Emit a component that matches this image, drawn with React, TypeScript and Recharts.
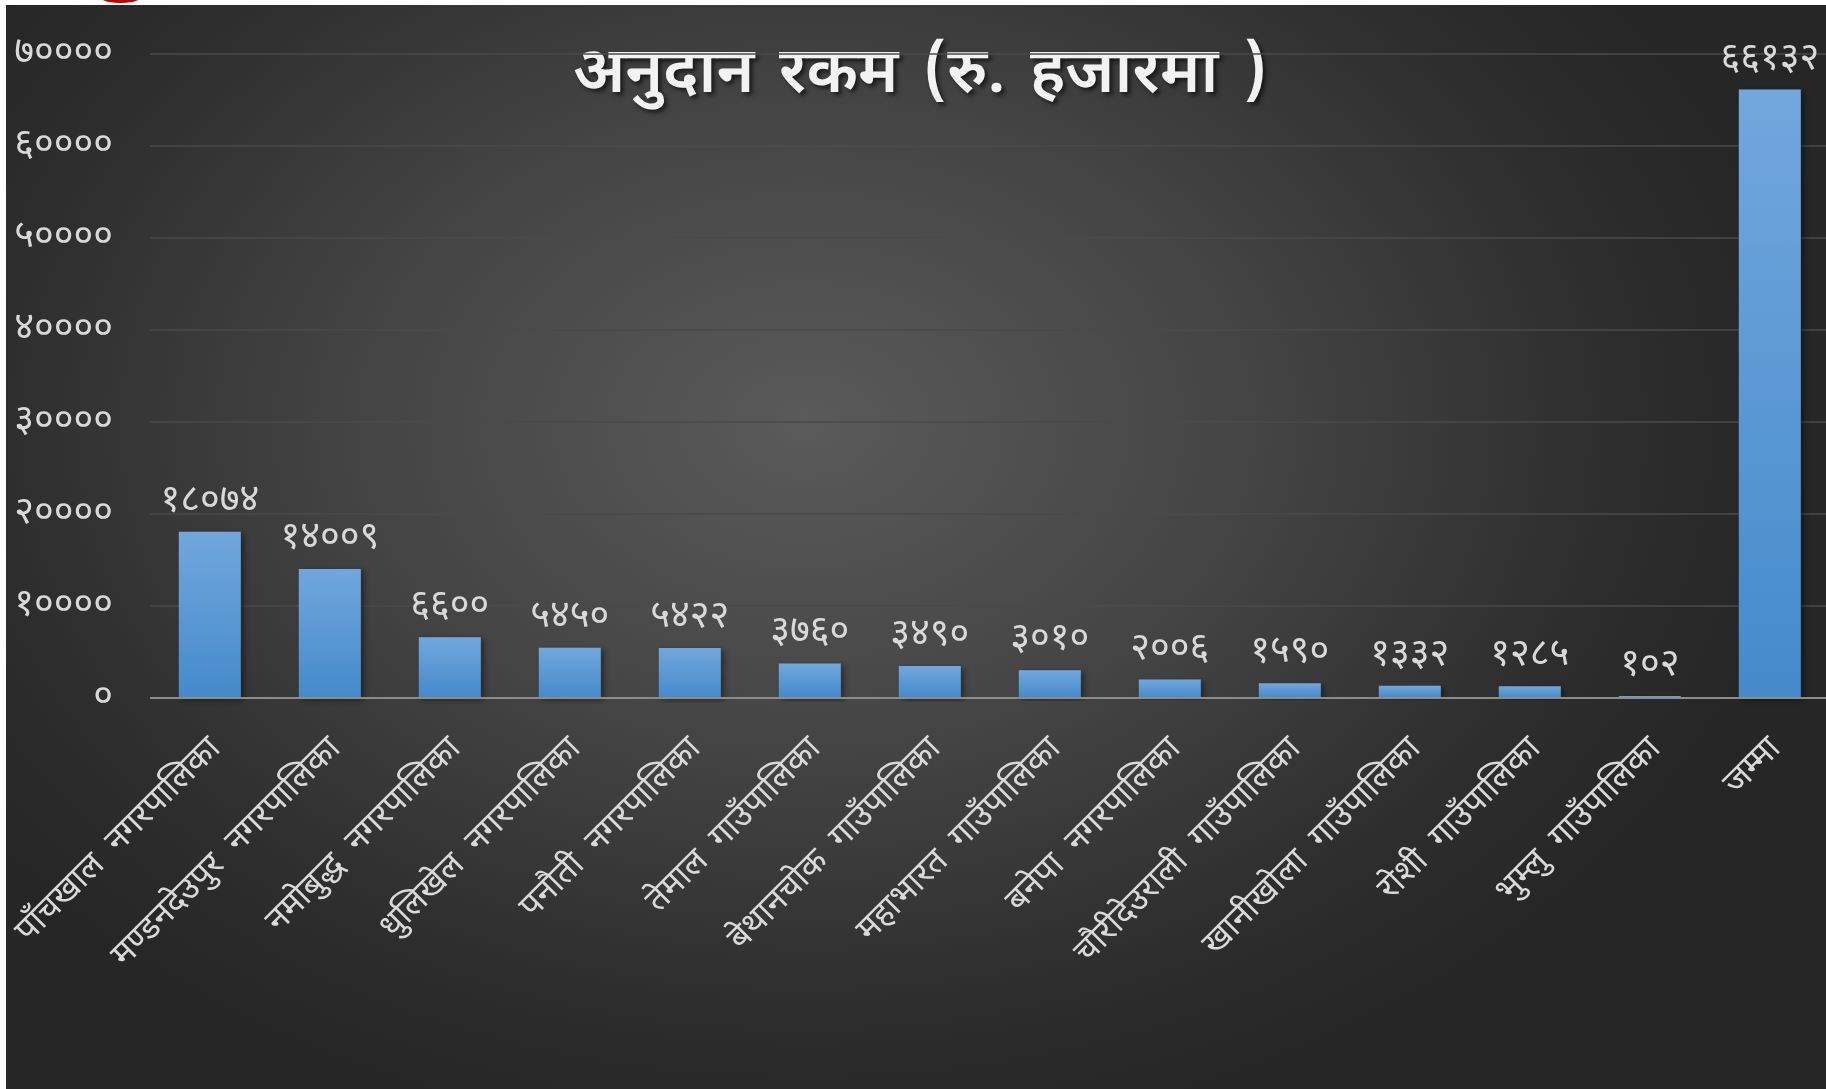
import React from 'react'
import { BarChart, Bar, XAxis, YAxis, CartesianGrid, LabelList } from 'recharts'

// अनुदान रकम (रु. हजारमा)
const categories = [
  'पाँचखाल  नगरपालिका',
  'मण्डनदेउपुर  नगरपालिका',
  'नमोबुद्ध  नगरपालिका',
  'धुलिखेल  नगरपालिका',
  'पनौती  नगरपालिका',
  'तेमाल  गाउँपालिका',
  'बेथानचोक  गाउँपालिका',
  'महाभारत  गाउँपालिका',
  'बनेपा  नगरपालिका',
  'चौरीदेउराली  गाउँपालिका',
  'खानीखोला  गाउँपालिका',
  'रोशी  गाउँपालिका',
  'भुम्लु  गाउँपालिका',
  'जम्मा',
]
const amounts = [18074, 14009, 6600, 5450, 5422, 3760, 3490, 3010, 2006, 1590, 1332, 1285, 102, 66132]
const yTicks = [0, 10000, 20000, 30000, 40000, 50000, 60000, 70000]

const FONT = '"Noto Sans Devanagari", "Noto Sans", "Lohit Devanagari", sans-serif'
const TEXT = '#d9d9d9'

const toDeva = (n: any) => String(n).replace(/\d/g, (d) => '०१२३४५६७८९'[Number(d)])

const data = categories.map((name, i) => ({ name, amount: amounts[i] }))

function CategoryTick({ x, y, payload }: any) {
  const ax = x + 12
  const ay = y + 44
  return (
    <text
      x={ax}
      y={ay}
      transform={`rotate(-45 ${ax} ${ay})`}
      textAnchor="end"
      fill={TEXT}
      fontSize={34}
      fontFamily={FONT}
      style={{ whiteSpace: 'pre' }}
    >
      {payload.value}
    </text>
  )
}

export default function App() {
  return (
    <>
      <div
        style={{
          position: 'fixed',
          left: 93,
          top: -22,
          width: 55,
          height: 25,
          borderRadius: '50%',
          background: '#c00000',
        }}
      />
      <div
        style={{
          position: 'fixed',
          left: 6,
          top: 5,
          width: 1820,
          height: 1084,
          overflow: 'hidden',
          background:
            'radial-gradient(ellipse 1000px 720px at 800px 420px, #5a5a5a 0%, #444 45%, #2e2e2e 80%, #262626 100%)',
        }}
      >
        <div
          style={{
            position: 'absolute',
            left: 0,
            width: 1828,
            top: 30,
            textAlign: 'center',
            color: '#f2f2f2',
            fontFamily: FONT,
            fontWeight: 600,
            fontSize: 64,
            wordSpacing: 8,
            textShadow: '3px 3px 4px rgba(0,0,0,0.6)',
            whiteSpace: 'pre',
          }}
        >
          अनुदान रकम (रु. हजारमा )
        </div>
        <BarChart
          width={1826}
          height={1084}
          data={data}
          margin={{ top: 49, right: 2, left: 0, bottom: 0 }}
          barCategoryGap="24%"
          style={{ position: 'absolute', left: 0, top: 0 }}
        >
          <defs>
            <linearGradient id="barFill" x1="0" y1="0" x2="0" y2="1">
              <stop offset="0%" stopColor="#72a7dd" />
              <stop offset="100%" stopColor="#448acb" />
            </linearGradient>
            <filter id="barShadow" x="-20%" y="-5%" width="150%" height="115%">
              <feDropShadow dx="3" dy="2" stdDeviation="3" floodColor="#000" floodOpacity="0.45" />
            </filter>
          </defs>
          <CartesianGrid vertical={false} stroke="#4a4a4a" strokeWidth={1.5} />
          <XAxis
            dataKey="name"
            interval={0}
            height={391}
            tick={<CategoryTick />}
            tickLine={false}
            axisLine={{ stroke: '#8c8c8c', strokeWidth: 2 }}
          />
          <YAxis
            domain={[0, 70000]}
            ticks={yTicks}
            width={144}
            tickFormatter={toDeva}
            tick={{ fill: TEXT, fontSize: 38, fontFamily: FONT, dy: -4 }}
            tickSize={0}
            tickMargin={37}
            axisLine={false}
            tickLine={false}
          />
          <Bar dataKey="amount" fill="url(#barFill)" filter="url(#barShadow)" minPointSize={2} isAnimationActive={false}>
            <LabelList
              dataKey="amount"
              position="top"
              offset={21}
              formatter={toDeva}
              fill={TEXT}
              fontSize={38}
              fontFamily={FONT}
            />
          </Bar>
        </BarChart>
      </div>
    </>
  )
}
